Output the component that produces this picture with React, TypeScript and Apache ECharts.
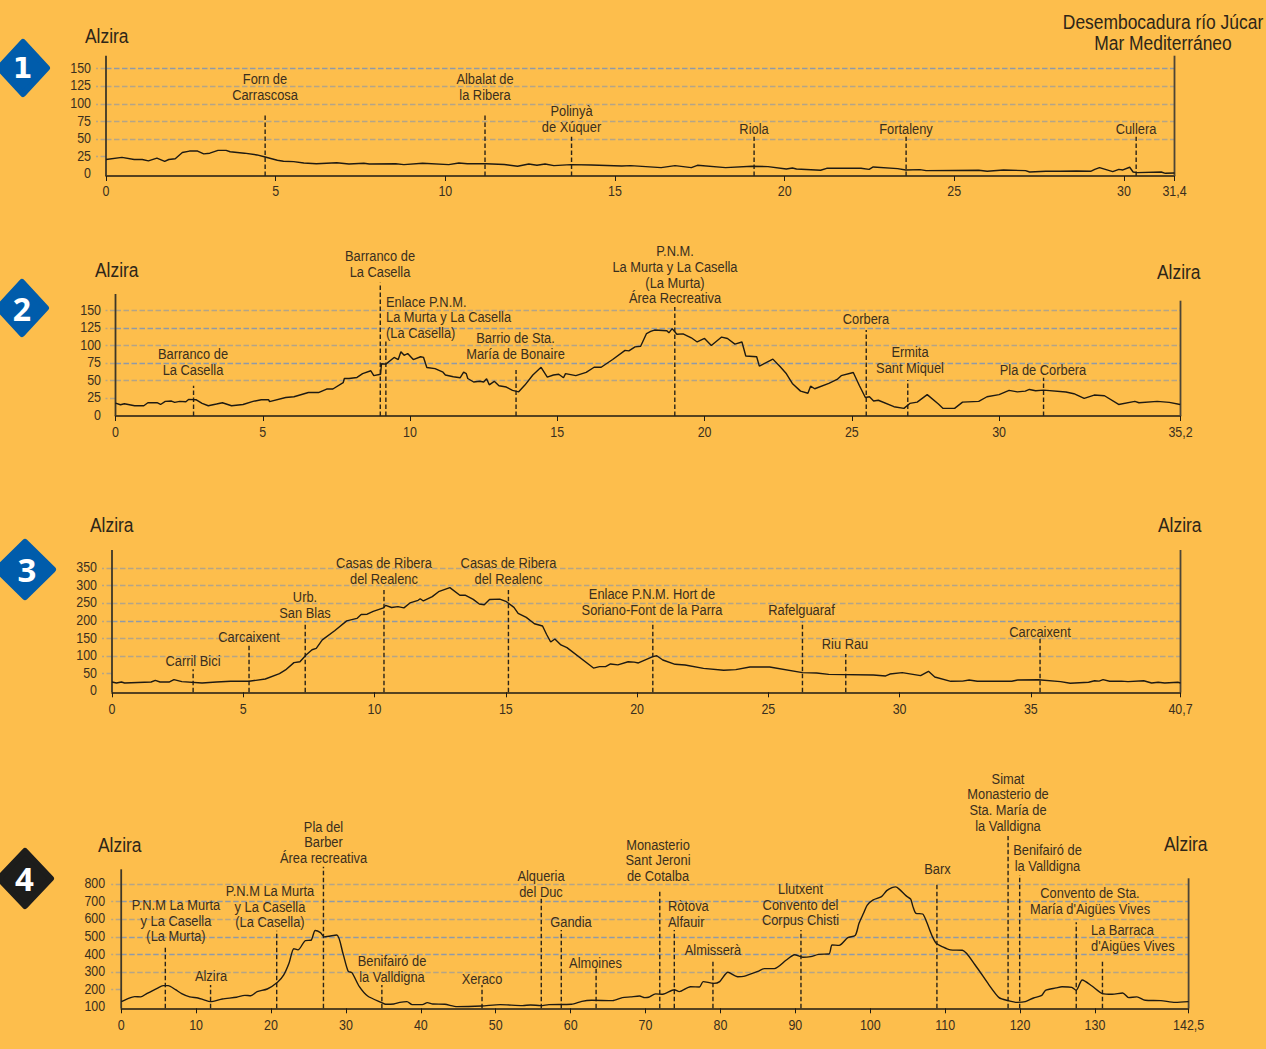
import React, { useEffect, useRef } from "react";
import * as echarts from "echarts";

// ---------- elevation profiles: [km on the drawn scale, metres] ----------
const profile1: number[][] = [[0,21],[0.47,24],[0.83,21],[1.07,21],[1.25,19],[1.5,23],[1.73,18.5],[1.85,21],[2.04,22],[2.25,31],[2.46,33],[2.7,33],[2.88,29],[3.06,30],[3.3,34],[3.54,34],[3.66,32],[4.08,30],[4.45,27.5],[4.69,24.6],[5.05,20],[5.23,18.5],[5.53,18],[5.83,16],[6.2,15],[6.8,16.5],[7.16,14.7],[7.6,15.6],[7.76,14.7],[8.54,15],[8.78,13.7],[9.33,15.6],[10.1,13.7],[10.4,16],[10.65,15],[11.2,15],[11.74,14],[12.13,11.4],[12.46,14.7],[12.7,12.8],[12.94,14.7],[13.2,12.3],[13.7,13.7],[14.3,13.3],[15.2,11.8],[15.46,12.3],[16.36,9.5],[16.77,12.3],[17.25,9.5],[17.43,12.8],[18.26,9.5],[19.04,11.4],[19.51,10.9],[20.05,7.6],[20.23,9],[20.35,7.6],[21.06,5.7],[21.24,8.5],[22.25,8.5],[22.49,7],[22.61,10.4],[23.33,8],[23.57,6.2],[23.99,6.6],[24.17,5.2],[25.72,5.7],[25.97,4.3],[26.45,6.2],[27.1,5.2],[27.22,3.3],[27.7,4.3],[28.12,4.3],[28.6,4.7],[29.02,4.3],[29.14,7],[29.28,9.5],[29.67,3.8],[29.85,7],[29.97,6.2],[30.17,10],[30.27,3.3],[30.39,2.4],[31.1,3.3],[31.22,1.4],[31.49,1.8]];
const profile2: number[][] = [[0,18],[0.17,15.6],[0.3,17],[0.65,14.2],[0.96,14.2],[1.1,18.5],[1.41,18.5],[1.53,16],[1.69,20.4],[1.9,20.9],[2.01,19],[2.18,20.4],[2.39,19.9],[2.48,23.2],[2.73,22.8],[2.94,17.5],[3.15,14.2],[3.43,16.6],[3.63,18.5],[3.94,14.2],[4.33,16],[4.67,20.4],[4.95,22.8],[5.2,22.8],[5.23,20],[5.78,26],[6.06,27],[6.55,33],[6.89,33],[7.17,38],[7.38,38],[7.73,47],[7.77,53],[7.93,53],[8.2,54.5],[8.39,60],[8.67,64],[8.77,57],[9,59],[9.03,74],[9.18,73.5],[9.46,83],[9.6,80],[9.69,91],[9.8,86],[9.92,88.6],[10.11,80],[10.36,84],[10.46,83],[10.57,68.7],[10.85,67],[11.12,62],[11.2,58],[11.47,55.5],[11.7,54],[11.82,62],[11.91,60],[11.96,53],[12.16,48],[12.37,49],[12.5,48],[12.6,52.6],[12.69,44],[12.86,49],[13.02,42.7],[13.27,40.8],[13.48,36],[13.69,34],[13.9,43.6],[14.17,58],[14.45,69],[14.66,55],[14.87,58],[15.05,59],[15.21,54],[15.28,60],[15.63,57],[15.98,61.6],[16.25,69],[16.49,69],[16.88,80],[17.3,93],[17.43,92.4],[17.64,98],[17.83,99],[18.03,117],[18.17,120],[18.3,122],[18.72,121],[18.79,118],[18.9,124],[19.06,116],[19.27,116.6],[19.55,111],[19.75,105],[20,110],[20.23,100],[20.58,112],[20.78,110],[21.03,102],[21.27,105],[21.4,85],[21.77,84],[21.86,70.6],[22.32,80.6],[22.57,69.7],[22.78,59.7],[22.98,46],[23.26,35],[23.51,32],[23.6,42],[23.74,38.4],[24.22,46],[24.5,51.7],[24.64,57],[25.05,61.6],[25.26,42.7],[25.46,26],[25.6,27],[25.74,21],[25.9,22],[26.43,12.8],[26.77,10.4],[26.97,17.5],[27.22,19.4],[27.56,30],[27.94,16.6],[28.1,10.4],[28.49,10.4],[28.76,19.4],[29.31,20.4],[29.59,27],[30,30],[30.34,36],[30.62,34],[30.89,35],[31.03,37.4],[31.24,35.5],[31.51,36.5],[32.27,33.7],[32.54,31.3],[32.89,24.6],[33.23,29.4],[33.58,28.4],[34.06,16],[34.61,20.4],[34.75,18.5],[35.37,20.4],[35.78,19],[36.15,16]];
const profile3: number[][] = [[0,26.5],[0.17,23.7],[0.36,26.5],[0.48,23.7],[1.49,26.5],[1.65,31],[1.83,26.5],[2.19,26.5],[2.36,33],[2.66,27.5],[3.43,23.7],[3.98,26.5],[4.52,28.4],[5.22,28.4],[5.84,35],[6.38,50],[6.61,60.6],[6.93,81.4],[7.16,84],[7.39,103],[7.62,118],[7.78,122],[8.01,146],[8.48,172],[8.94,200],[9.33,207],[9.49,218],[9.72,219],[9.95,227],[10.34,237],[10.42,244],[10.65,238],[10.89,240.5],[11.12,237],[11.35,251],[11.66,258.5],[11.74,263],[11.86,256.6],[12.2,269],[12.44,283],[12.87,294.5],[13.25,273],[13.45,273],[13.76,261],[13.99,248],[14.18,246],[14.38,261],[14.77,262],[15,255.7],[15.31,238.6],[15.47,221.6],[15.78,210],[16.09,192],[16.4,185.6],[16.55,162],[16.71,140],[16.87,148.7],[17.1,131.6],[17.33,124],[18.34,66],[18.57,70],[18.8,70],[18.99,77.6],[19.27,75],[19.66,84],[19.89,83],[20.05,80.5],[20.6,98.5],[20.75,101],[20.98,89],[21.45,76.7],[21.83,74.8],[22.53,65],[23.3,60],[23.76,61.6],[24.3,69],[25.05,69],[26.3,53],[26.84,52],[27.3,48],[29,46.4],[29.47,43.6],[29.63,49],[30.1,53],[30.8,44.5],[31.1,56.8],[31.34,40.7],[31.95,28.4],[32.4,29],[32.65,32],[32.96,28.4],[34.27,28.4],[34.5,32],[35.28,33],[36.13,27.5],[36.5,22.7],[37.2,25.6],[37.43,30],[37.6,29],[37.75,33],[38,28.4],[38.45,29],[38.7,27.5],[39.3,30],[39.6,23.7],[39.85,25.6],[40.1,23.7],[40.6,25.6],[40.7,23.7]];
const profile4: number[][] = [[0,132],[0.98,151],[1.8,160.6],[2.6,159],[3.4,177.6],[4.8,208],[5.6,223],[6.27,223],[7.25,200],[8.07,178],[9.15,159],[10.25,153],[11.06,142],[11.9,132],[13.5,147],[15.4,157],[16.5,168],[17.3,166],[18.15,189],[19.5,204],[20.87,242],[21.7,284],[22.4,350],[23.05,433],[23.6,426],[24.6,479],[25.34,481],[25.9,536],[26.6,524],[27.14,500],[28.77,511],[29.6,407],[30.3,305],[30.8,297],[31.8,217],[32.9,164],[34.8,126],[35.3,117],[36.4,119],[37.2,128],[38.15,132],[38.85,115],[40.2,115],[40.87,126.5],[41.6,119],[43.2,117],[44.85,104],[48.1,107.5],[50.6,115],[53.6,109.5],[54.65,113],[56,109.5],[57.1,115],[60.1,117],[61.5,134],[62.8,140],[65.6,138],[66.9,155],[68,159],[69.2,164],[69.9,155],[70.4,157],[71.35,176],[72.3,174],[73.84,200],[74.5,189],[76,217],[77.2,215.5],[77.7,246],[79.1,236],[79.9,246],[81,299],[82.3,274],[83.1,276],[85,304.5],[85.85,320],[87.2,320],[88.8,369],[89.9,399],[91,384],[92.05,388],[93.1,401],[94.5,403],[94.9,454],[95.85,452],[97,496],[98,509],[98.5,577],[99.1,634],[99.6,681],[100.4,710],[101.5,729],[102.2,763],[102.9,780],[103.4,784],[103.9,770],[104.8,733],[105.4,714],[105.7,672],[106.1,634],[107,630],[107.5,587],[108.3,501.5],[108.8,464],[109.6,445],[110.7,426],[112.3,424],[114,340.5],[115.8,230.7],[117.2,155],[118.4,138],[119.6,128],[120.7,132],[121.8,153],[122.9,168],[123.4,196.6],[124.8,210],[125.6,217],[126.9,213.6],[127.5,196.6],[128.3,255],[129.6,221],[131,178],[132.3,174],[133.7,181],[134.5,155],[135.6,159],[136.7,140],[138.8,138],[140.7,128],[142.5,132]];

// ---------- dashed place markers: km and height reached ----------
const markerKm1 = [4.69, 11.17, 13.72, 19.1, 23.58, 30.36];
const markerTop1 = [87, 87, 53.5, 53.5, 53.5, 53.5];
const markerKm2 = [2.65, 8.99, 9.18, 13.6, 18.99, 25.49, 26.9, 31.51];
const markerTop2 = [42.7, 189.5, 109, 65, 155, 122, 51, 54];
const markerKm3 = [3.09, 5.22, 7.36, 10.36, 15.1, 20.6, 26.3, 27.95, 35.35];
const markerTop3 = [62.5, 129.6, 197.7, 287.8, 287.8, 197.7, 197.7, 106, 150.6];
const markerKm4 = [5.89, 11.93, 20.76, 27, 34.8, 48.17, 56.08, 58.75, 63.4, 71.9, 73.84, 79, 90.75, 108.9, 118.4, 119.95, 127.5, 131];
const markerTop4 = [441, 227, 535, 899, 227, 227, 725, 539, 323, 766, 539, 363, 539, 810, 1073, 852, 583, 363];

// ---------- axis ticks and labels ----------
const xTicks1 = [0, 5, 10, 15, 20, 25, 30, 31.49];
const xLabels1 = ["0", "5", "10", "15", "20", "25", "30", "31,4"];
const xTicks2 = [0, 5, 10, 15, 20, 25, 30, 36.16];
const xLabels2 = ["0", "5", "10", "15", "20", "25", "30", "35,2"];
const xTicks3 = [0, 5, 10, 15, 20, 25, 30, 35, 40.7];
const xLabels3 = ["0", "5", "10", "15", "20", "25", "30", "35", "40,7"];
const xTicks4 = [0, 10, 20, 30, 40, 50, 60, 70, 80, 90, 100, 110, 120, 130, 142.5];
const xLabels4 = ["0", "10", "20", "30", "40", "50", "60", "70", "80", "90", "100", "110", "120", "130", "142,5"];
const yTicks1 = [0, 25, 50, 75, 100, 125, 150];
const yTicks2 = [0, 25, 50, 75, 100, 125, 150];
const yTicks3 = [0, 50, 100, 150, 200, 250, 300, 350];
const yTicks4 = [100, 200, 300, 400, 500, 600, 700, 800];

// ---------- place names ----------
const placeText1 = ["Forn de\nCarrascosa", "Albalat de\nla Ribera", "Polinyà\nde Xúquer", "Riola", "Fortaleny", "Cullera"];
const placeText2 = ["Barranco de\nLa Casella", "Barranco de\nLa Casella", "Barrio de Sta.\nMaría de Bonaire", "P.N.M.\nLa Murta y La Casella\n(La Murta)\nÁrea Recreativa", "Corbera", "Ermita\nSant Miquel", "Pla de Corbera", "Enlace P.N.M.\nLa Murta y La Casella\n(La Casella)"];
const placeText3 = ["Carril Bici", "Carcaixent", "Urb.\nSan Blas", "Casas de Ribera\ndel Realenc", "Casas de Ribera\ndel Realenc", "Enlace P.N.M. Hort de\nSoriano-Font de la Parra", "Rafelguaraf", "Riu Rau", "Carcaixent"];
const placeText4 = ["P.N.M La Murta\ny La Casella\n(La Murta)", "Alzira", "P.N.M La Murta\ny La Casella\n(La Casella)", "Pla del\nBarber\nÁrea recreativa", "Benifairó de\nla Valldigna", "Xeraco", "Alqueria\ndel Duc", "Gandia", "Almoines", "Monasterio\nSant Jeroni\nde Cotalba", "Almisserà", "Llutxent\nConvento del\nCorpus Chisti", "Barx", "Simat\nMonasterio de\nSta. María de\nla Valldigna", "Benifairó de\nla Valldigna", "Convento de Sta.\nMaría d'Aigües Vives", "Ròtova\nAlfauir", "La Barraca\nd'Aigües Vives"];

// ---------- layout (pixels) and styles, kept apart from the data ----------
const FONT = '"Liberation Sans", Arial, sans-serif';
const NARROW = 0.83; // no narrow face is installed: the regular face is condensed horizontally
const BG = "#FDBE4C";
const INK = "#3A2F1E";
const LINE = "#1E1A12";
const TAN = "#B4A587";
const BLUE = "#8F9AA8";
const TEXT_SHIFT = -0.7;

const placePos1 = [[265, 87], [485, 87], [571.5, 119], [754, 129], [906, 129], [1136, 129]];
const placePos2 = [[193, 362.5], [380, 264], [515.5, 346], [675, 275], [866, 319], [910, 360.5], [1043, 370], [386, 317.5]];
const placePos3 = [[193, 661], [249, 637], [305, 605], [384, 571], [508.5, 571], [652, 602], [801.5, 610], [845, 644], [1040, 632]];
const placePos4 = [[176, 921], [211, 976], [270, 907], [323.5, 842.5], [392, 969], [482, 979], [541, 884], [571, 922], [595.5, 963], [658, 860.5], [713, 950], [800.5, 905], [937.5, 869], [1008, 802.5], [1047.5, 858], [1090, 901], [668, 914], [1091, 938.5]];

const panels = [
  { profile: profile1, km: markerKm1, top: markerTop1, xTicks: xTicks1, xLabels: xLabels1, yTicks: yTicks1, interval: 25, x0: 106, x1: 1174.5, y0: 174.3, pxPerUnit: 0.704, yMin: 0, baseY: 176, leftTopY: 55.7, rightTopY: 55.7, yLabelGap: 15, xLabelGap: 16.3, colors: [TAN, TAN, TAN, TAN, BLUE, TAN], names: placeText1, pos: placePos1, leftAligned: 0, smooth: false },
  { profile: profile2, km: markerKm2, top: markerTop2, xTicks: xTicks2, xLabels: xLabels2, yTicks: yTicks2, interval: 25, x0: 115.5, x1: 1180.5, y0: 415.7, pxPerUnit: 0.702, yMin: 0, baseY: 416, leftTopY: 294, rightTopY: 300.7, yLabelGap: 14.5, xLabelGap: 17.3, colors: [TAN, BLUE, TAN, BLUE, TAN, TAN], names: placeText2, pos: placePos2, leftAligned: 1, smooth: false },
  { profile: profile3, km: markerKm3, top: markerTop3, xTicks: xTicks3, xLabels: xLabels3, yTicks: yTicks3, interval: 50, x0: 112, x1: 1180.5, y0: 691.3, pxPerUnit: 0.352, yMin: 0, baseY: 692.3, leftTopY: 550, rightTopY: 550, yLabelGap: 15, xLabelGap: 17.7, colors: [TAN, TAN, BLUE, TAN, TAN, TAN, BLUE], names: placeText3, pos: placePos3, leftAligned: 0, smooth: false },
  { profile: profile4, km: markerKm4, top: markerTop4, xTicks: xTicks4, xLabels: xLabels4, yTicks: yTicks4, interval: 100, x0: 121.2, x1: 1188.6, y0: 1007.3, pxPerUnit: 0.176, yMin: 100, baseY: 1008.3, leftTopY: 869.3, rightTopY: 878.3, yLabelGap: 16, xLabelGap: 17.7, colors: [TAN, BLUE, BLUE, TAN, BLUE, TAN, BLUE], names: placeText4, pos: placePos4, leftAligned: 2, smooth: 0.25 },
];

const titles = [
  { text: "Alzira", x: 85, y: 37, align: "left" },
  { text: "Desembocadura río Júcar\nMar Mediterráneo", x: 1163, y: 33, align: "center" },
  { text: "Alzira", x: 95, y: 271, align: "left" },
  { text: "Alzira", x: 1157, y: 273, align: "left" },
  { text: "Alzira", x: 90, y: 526, align: "left" },
  { text: "Alzira", x: 1158, y: 526, align: "left" },
  { text: "Alzira", x: 98, y: 846, align: "left" },
  { text: "Alzira", x: 1164, y: 845, align: "left" },
];

const badges = [
  { text: "1", cx: 23, cy: 68, hw: 27, hh: 29, fill: "#005CAB", tx: 22.5, font: '"DejaVu Sans"', size: 28 },
  { text: "2", cx: 22, cy: 308, hw: 27, hh: 29, fill: "#005CAB", tx: 22, font: '"Open Sans"', size: 32 },
  { text: "3", cx: 25, cy: 569.5, hw: 31, hh: 30.5, fill: "#005CAB", tx: 27, font: '"Open Sans"', size: 33 },
  { text: "4", cx: 25, cy: 878.5, hw: 29, hh: 30.5, fill: "#1D1D1B", tx: 24.5, font: '"Open Sans"', size: 33 },
];

function buildOption() {
  const grids: any[] = [];
  const xAxes: any[] = [];
  const yAxes: any[] = [];
  const series: any[] = [];

  panels.forEach((p, i) => {
    const xMax = p.xTicks[p.xTicks.length - 1];
    const yMax = p.yMin + (p.y0 - p.leftTopY) / p.pxPerUnit;
    const base = p.yMin - (p.baseY - p.y0) / p.pxPerUnit;
    const rightTop = p.yMin + (p.y0 - p.rightTopY) / p.pxPerUnit;
    grids.push({ left: p.x0, width: p.x1 - p.x0, top: p.leftTopY, height: p.y0 - p.leftTopY, show: false, containLabel: false });
    xAxes.push({
      type: "value", gridIndex: i, min: 0, max: xMax, position: "bottom", offset: p.baseY - p.y0,
      splitLine: { show: false },
      axisLine: { show: true, onZero: false, lineStyle: { color: LINE, width: 1.6 } },
      axisTick: { show: true, length: 5, customValues: p.xTicks, lineStyle: { color: LINE, width: 1 } },
      axisLabel: { show: false },
    });
    yAxes.push({
      type: "value", gridIndex: i, min: p.yMin, max: yMax, interval: p.interval, position: "left",
      axisLine: { show: false, onZero: false },
      axisTick: { show: true, length: 10, customValues: p.yTicks.slice(1), lineStyle: { type: [5.5, 2.5], color: TAN, width: 1.4 } },
      axisLabel: { show: false },
      splitLine: { show: true, showMinLine: false, lineStyle: { type: [5.5, 2.5], color: p.colors, width: 1.4 } },
    });
    const common = { type: "line", xAxisIndex: i, yAxisIndex: i, symbol: "none", showSymbol: false, clip: false, silent: true, animation: false };
    series.push({ ...common, name: "leftEdge" + i, data: [[0, base], [0, yMax]], lineStyle: { color: "#3E3727", width: 1.8 } });
    series.push({ ...common, name: "rightEdge" + i, data: [[xMax, base], [xMax, rightTop]], lineStyle: { color: "#4D4536", width: 1.8 } });
    series.push({
      ...common, name: "markers" + i, connectNulls: false,
      data: p.km.flatMap((k, m) => [[k, base], [k, p.top[m]], [k, "-"]]),
      lineStyle: { color: "#2A2418", width: 1.4, type: [4.5, 2.5] },
    });
    series.push({ ...common, name: "profile" + i, smooth: p.smooth, data: p.profile, lineStyle: { color: LINE, width: 1.4 } });
  });

  return { animation: false, backgroundColor: BG, grid: grids, xAxis: xAxes, yAxis: yAxes, series };
}

// Texts are condensed with scaleX; tick labels take their places from the axes through convertToPixel.
function narrowText(text: string, x: number, y: number, size: number, align: string, fill: string, lineHeight: number) {
  return {
    type: "text", x, y: y + TEXT_SHIFT, scaleX: NARROW, silent: true,
    style: { text, fill, font: `${size}px ${FONT}`, lineHeight, textAlign: align, textVerticalAlign: "middle" },
  };
}

function buildGraphics(chart: echarts.ECharts) {
  const graphics: any[] = [];
  panels.forEach((p, i) => {
    p.xTicks.forEach((v, k) => {
      const px = chart.convertToPixel({ xAxisIndex: i }, v) as number;
      graphics.push(narrowText(p.xLabels[k], px, p.baseY + p.xLabelGap, 15, "center", INK, 16));
    });
    p.yTicks.forEach((v) => {
      const py = chart.convertToPixel({ yAxisIndex: i }, v) as number;
      graphics.push(narrowText(String(v), p.x0 - p.yLabelGap, py, 15, "right", INK, 16));
    });
    p.names.forEach((t, n) => {
      const leftStart = p.names.length - p.leftAligned;
      graphics.push(narrowText(t, p.pos[n][0], p.pos[n][1], 15.5, n >= leftStart ? "left" : "center", INK, 15.7));
    });
  });
  titles.forEach((t) => graphics.push(narrowText(t.text, t.x, t.y, 21, t.align, "#2E2618", 21)));
  badges.forEach((b) => {
    const r = 3;
    graphics.push({
      type: "polygon", silent: true,
      shape: { points: [[b.cx, b.cy - b.hh + r], [b.cx + b.hw - r, b.cy], [b.cx, b.cy + b.hh - r], [b.cx - b.hw + r, b.cy]] },
      style: { fill: b.fill, stroke: b.fill, lineWidth: 2 * r, lineJoin: "round" },
    });
    graphics.push({
      type: "text", x: b.tx, y: b.cy, silent: true,
      style: { text: b.text, fill: "#FFFFFF", font: `bold ${b.size}px ${b.font}`, textAlign: "center", textVerticalAlign: "middle" },
    });
  });
  return graphics;
}

export default function App() {
  const ref = useRef<HTMLDivElement>(null);
  useEffect(() => {
    document.body.style.margin = "0";
    document.body.style.background = BG;
    const chart = echarts.init(ref.current!, undefined, { renderer: "svg" });
    chart.setOption(buildOption() as any);
    chart.setOption({ graphic: { elements: buildGraphics(chart) } } as any);
    return () => chart.dispose();
  }, []);
  return <div ref={ref} style={{ position: "absolute", left: 0, top: 0, width: 1266, height: 1049 }} />;
}
